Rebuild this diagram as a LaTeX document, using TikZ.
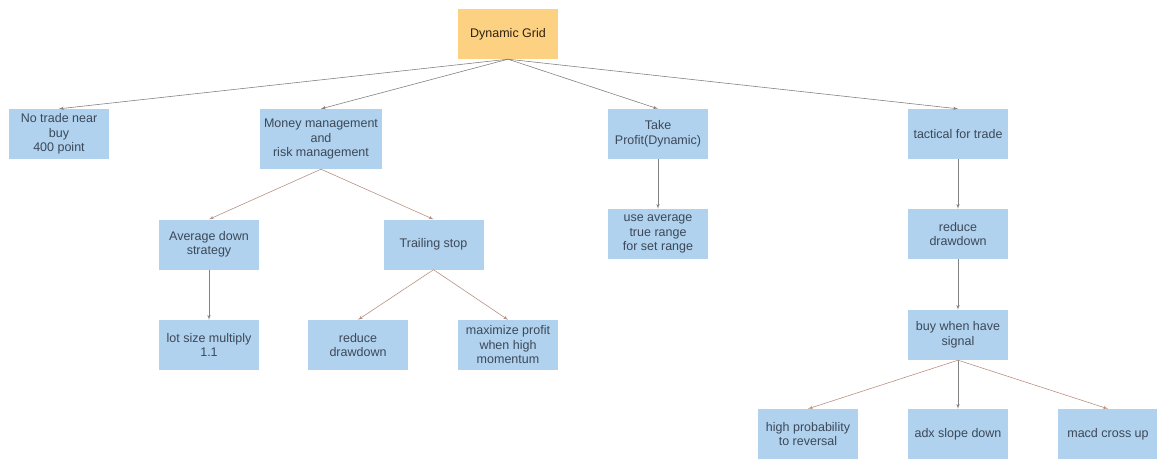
\documentclass[tikz,border=0pt]{standalone}
\usepackage{fontspec}
\setmainfont{Liberation Sans}
\usepackage{tikz}
\usetikzlibrary{shapes.geometric, arrows}
\definecolor{boxblue}{RGB}{176,210,238}
\definecolor{boxorange}{RGB}{252,210,130}
\definecolor{boxtext}{RGB}{60,72,88}
\definecolor{edgegray}{RGB}{130,130,130}
\definecolor{edgebrown}{RGB}{185,145,130}
\tikzstyle{root} = [rectangle, fill=boxorange, text=black!75!brown,
    minimum width=100pt, minimum height=50pt, align=center, inner sep=1pt]
\tikzstyle{block} = [rectangle, fill=boxblue, text=boxtext,
    minimum width=100pt, minimum height=50pt, align=center, inner sep=1pt]
\tikzstyle{line} = [draw=edgegray, line width=0.6pt, -latex']
\tikzstyle{bline} = [draw=edgebrown, line width=0.6pt, -latex']

\begin{document}
\begin{tikzpicture}[font=\fontsize{12.5}{14.5}\selectfont]
            \useasboundingbox (0,0) rectangle (1157pt,-458pt);
            % Place nodes
            \node [root] (grid) at (508pt,-34pt) {Dynamic Grid};
            \node [block] (notrade) at (59pt,-134pt) {No trade near\\buy\\400 point};
            \node [block, right of=notrade, node distance=262pt, yshift=-5pt, minimum width=122pt, minimum height=60pt] (money) {Money management\\and\\risk management};
            \node [block, right of=notrade, node distance=599pt] (profit) {Take\\Profit(Dynamic)};
            \node [block, right of=profit, node distance=300pt] (tactical) {tactical for trade};

            \node [block, below of=money, node distance=105.5pt, xshift=-112pt] (avgdown) {Average down\\strategy};
            \node [block, right of=avgdown, node distance=224.5pt] (trailing) {Trailing stop};
            \node [block, below of=avgdown, node distance=100.5pt] (lotsize) {lot size multiply\\1.1};
            \node [block, below of=trailing, node distance=100.5pt, xshift=-75.5pt] (reducea) {reduce\\drawdown};
            \node [block, right of=reducea, node distance=150pt] (maxprofit) {maximize profit\\when high\\momentum};

            \node [block, below of=profit, node distance=100pt] (atr) {use average\\true range\\for set range};

            \node [block, below of=tactical, node distance=100pt] (reduceb) {reduce\\drawdown};
            \node [block, below of=reduceb, node distance=101pt] (signal) {buy when have\\signal};
            \node [block, below of=signal, node distance=99pt] (adx) {adx slope down};
            \node [block, left of=adx, node distance=150pt] (reversal) {high probability\\to reversal};
            \node [block, right of=adx, node distance=150pt] (macd) {macd cross up};

            % Draw edges
            \path [line] (grid.south) -- (notrade.north);
            \path [line] (grid.south) -- (money.north);
            \path [line] (grid.south) -- (profit.north);
            \path [line] (grid.south) -- (tactical.north);

            \path [bline] (money.south) -- (avgdown.north);
            \path [bline] (money.south) -- (trailing.north);
            \path [line] (avgdown.south) -- (lotsize.north);
            \path [bline] (trailing.south) -- (reducea.north);
            \path [bline] (trailing.south) -- (maxprofit.north);

            \path [line] (profit.south) -- (atr.north);

            \path [line] (tactical.south) -- (reduceb.north);
            \path [line] (reduceb.south) -- (signal.north);
            \path [bline] (signal.south) -- (reversal.north);
            \path [line] (signal.south) -- (adx.north);
            \path [bline] (signal.south) -- (macd.north);

        \end{tikzpicture}
\end{document}
